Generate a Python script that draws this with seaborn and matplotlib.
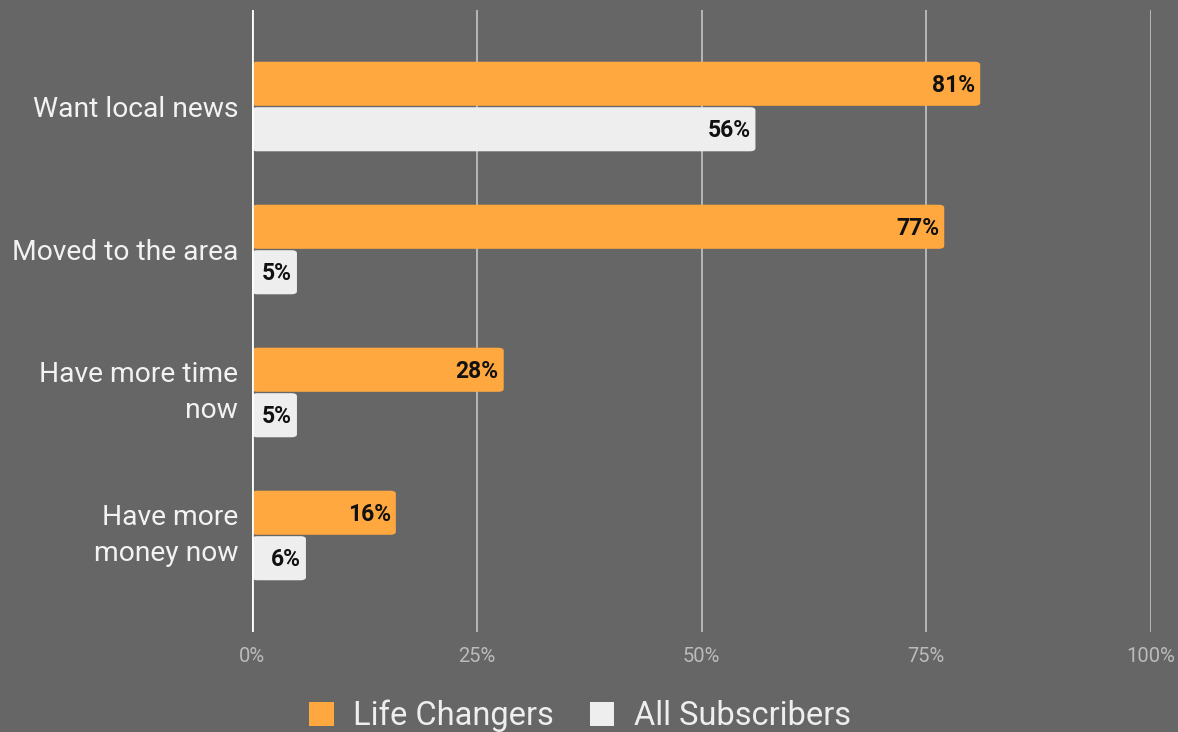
import matplotlib
matplotlib.use("Agg")
import matplotlib.pyplot as plt
from matplotlib.patches import FancyBboxPatch, Patch
import seaborn as sns
import pandas as pd

categories = ["Want local news", "Moved to the area", "Have more time\nnow", "Have more\nmoney now"]
series_names = ["Life Changers", "All Subscribers"]
life_changers = [81, 77, 28, 16]
all_subscribers = [56, 5, 5, 6]
x_ticks = [0, 25, 50, 75, 100]
x_tick_labels = ["0%", "25%", "50%", "75%", "100%"]

BG = "#666666"
ORANGE = "#FFA83F"
LIGHT = "#EEEEEE"

sns.set_theme(style="white")
plt.rcParams["font.family"] = ["Roboto", "DejaVu Sans"]

df = pd.DataFrame({
    "category": categories * 2,
    "series": [series_names[0]] * 4 + [series_names[1]] * 4,
    "value": life_changers + all_subscribers,
})

fig = plt.figure(figsize=(11.78, 7.32), dpi=100, facecolor=BG)
ax = fig.add_axes([252 / 1178, 100 / 732, (1151 - 252) / 1178, 622 / 732])
ax.set_facecolor(BG)

sns.barplot(data=df, y="category", x="value", hue="series", orient="h",
            palette=[ORANGE, LIGHT], width=0.636, gap=0.03, ax=ax,
            legend=False, saturation=1)

# rounded bar corners, using the positions seaborn computed
for container, vals in zip(ax.containers, [life_changers, all_subscribers]):
    for bar, v in zip(container, vals):
        x0, y0 = bar.get_x(), bar.get_y()
        w, h = bar.get_width(), bar.get_height()
        bar.set_visible(False)
        rb = FancyBboxPatch((x0, y0), w, h,
                            boxstyle="round,pad=0,rounding_size=0.6",
                            mutation_aspect=0.035,
                            facecolor=bar.get_facecolor(), edgecolor="none",
                            zorder=3)
        ax.add_patch(rb)
        ax.text(x0 + w - 0.55, y0 + h / 2 + 0.012, f"{v}%", ha="right", va="center",
                fontsize=16.5, fontweight="bold", color="#111111", zorder=4)

ax.set_xlim(0, 100)
ax.set_ylim(3.675, -0.675)
ax.set_xticks(x_ticks)
ax.set_xticklabels(x_tick_labels, color="#BBBBBB", fontsize=14.5)
ax.tick_params(axis="x", length=0, pad=11)
ax.tick_params(axis="y", length=0, pad=10, labelsize=20.3, labelcolor="#F2F2F2")
for lbl in ax.get_yticklabels():
    lbl.set_linespacing(1.4)
    if "\n" in lbl.get_text():
        lbl.set_verticalalignment("center")
ax.set_xlabel("")
ax.set_ylabel("")
for s in ax.spines.values():
    s.set_visible(False)

for t in x_ticks[1:]:
    ax.axvline(t, color="#BDBDBD", lw=1.3, zorder=1)
ax.axvline(0, color="#FFFFFF", lw=2, zorder=5)

handles = [Patch(facecolor=ORANGE, edgecolor="none"), Patch(facecolor=LIGHT, edgecolor="none")]
leg = fig.legend(handles, series_names, loc="center", bbox_to_anchor=(580 / 1178, 1 - 716 / 732),
                 ncol=2, frameon=False, fontsize=23.5, labelcolor="#EEEEEE",
                 handlelength=0.75, handleheight=0.75, handletextpad=0.6, columnspacing=1.1)

fig.savefig("out.png", dpi=100, facecolor=BG)
